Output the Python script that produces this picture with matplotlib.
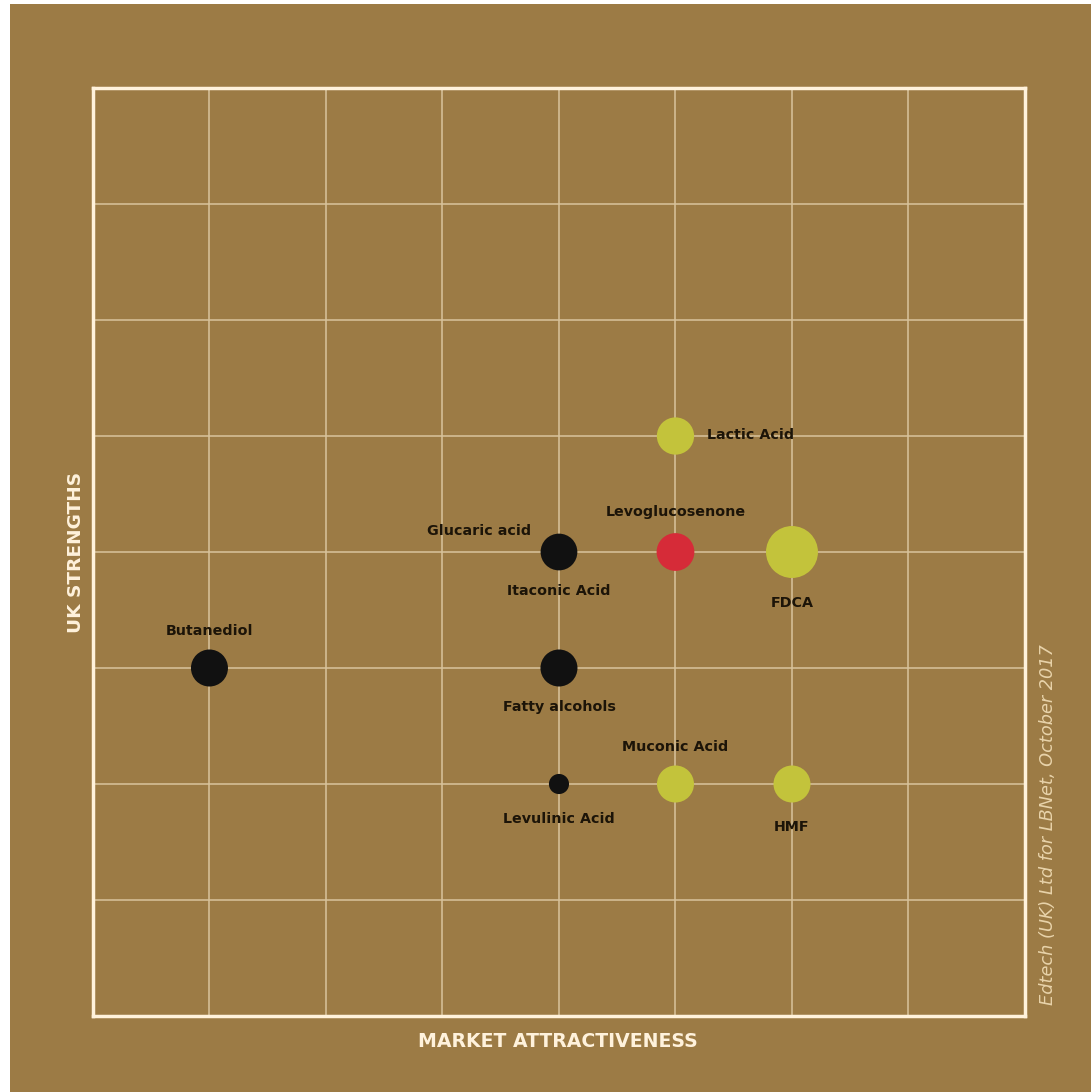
import matplotlib.pyplot as plt
from matplotlib.patches import Rectangle

# Chemicals placed on the market attractiveness / UK strengths grid
names = ["Lactic Acid", "Levoglucosenone", "Glucaric acid", "FDCA", "Butanediol",
         "Fatty alcohols", "Levulinic Acid", "Muconic Acid", "HMF"]
market = [5, 5, 4, 6, 1, 4, 4, 5, 6]
strength = [5, 4, 4, 4, 3, 3, 2, 2, 2]
sizes = [720, 740, 700, 1400, 710, 710, 210, 710, 710]
colors = ["#c3c33b", "#d62b38", "#111111", "#c3c33b", "#111111",
          "#111111", "#111111", "#c3c33b", "#c3c33b"]

# label offsets in points and horizontal alignment
label_offsets = {
    "Lactic Acid": (23, 1, "left"),
    "Levoglucosenone": (0, 29, "center"),
    "Glucaric acid": (-20, 15, "right"),
    "FDCA": (0, -37, "center"),
    "Butanediol": (0, 27, "center"),
    "Fatty alcohols": (0, -28, "center"),
    "Levulinic Acid": (0, -25, "center"),
    "Muconic Acid": (0, 27, "center"),
    "HMF": (0, -31, "center"),
}
extra_labels = [("Itaconic Acid", 4, 4, 0, -28)]

bg = "#9c7b45"
cream = "#fff2dc"
ink = "#1c1408"

fig = plt.figure(figsize=(10.91, 10.92), dpi=100)
fig.patch.set_facecolor("white")
# brown panel with a thin white margin on the left and top
fig.patches.append(Rectangle((0.0092, 0), 1, 0.9963, transform=fig.transFigure,
                             facecolor=bg, edgecolor="none", zorder=-10))

ax = fig.add_axes([0.0852, 0.0696, 0.8543, 0.8498])
ax.set_zorder(1)
ax.set_facecolor(bg)
ax.set_xlim(0, 8)
ax.set_ylim(0, 8)

for i in range(1, 8):
    ax.axvline(i, color="#d8c39c", lw=1.3, alpha=0.85, zorder=1)
    ax.axhline(i, color="#d8c39c", lw=1.3, alpha=0.85, zorder=1)

for side in ax.spines.values():
    side.set_color(cream)
    side.set_linewidth(2.5)
ax.set_xticks([])
ax.set_yticks([])

ax.scatter(market, strength, s=sizes, c=colors, edgecolors="none", zorder=3)

for name, x, y in zip(names, market, strength):
    dx, dy, ha = label_offsets[name]
    ax.annotate(name, (x, y), xytext=(dx, dy), textcoords="offset points",
                ha=ha, va="center", fontsize=10.3, fontweight="bold", color=ink, zorder=4)
for name, x, y, dx, dy in extra_labels:
    ax.annotate(name, (x, y), xytext=(dx, dy), textcoords="offset points",
                ha="center", va="center", fontsize=10.3, fontweight="bold", color=ink, zorder=4)

fig.text(0.5117, 0.046, "MARKET ATTRACTIVENESS", ha="center", va="center",
         fontsize=13.6, fontweight="bold", color=cream)
fig.text(0.0695, 0.4945, "UK STRENGTHS", ha="center", va="center", rotation=90,
         fontsize=13.3, fontweight="bold", color=cream)
fig.text(0.961, 0.2445, "Edtech (UK) Ltd for LBNet, October 2017", ha="center", va="center",
         rotation=90, fontsize=12.8, style="italic", color="#e8d3aa")

fig.savefig("out.png", dpi=100)
